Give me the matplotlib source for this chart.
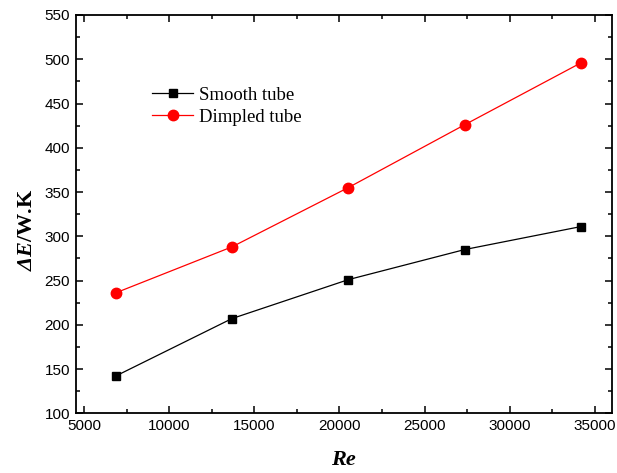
import matplotlib
matplotlib.use("Agg")
import matplotlib.pyplot as plt
from matplotlib.ticker import MultipleLocator

# Reynolds numbers and exergy change for both tube types
reynolds = [6840, 13680, 20520, 27360, 34200]
smooth_tube = [142, 207, 251, 285, 311]
dimpled_tube = [236, 288, 355, 426, 496]

plt.rcParams["font.family"] = ["Liberation Sans", "DejaVu Sans"]
plt.rcParams["mathtext.fontset"] = "custom"
plt.rcParams["mathtext.rm"] = "Liberation Serif:bold:italic"
plt.rcParams["mathtext.it"] = "Liberation Serif:bold:italic"

fig = plt.figure(figsize=(6.17, 4.73), dpi=100)
ax = fig.add_axes([0.1227, 0.1262, 0.8687, 0.8421])

ax.plot(reynolds, smooth_tube, color="black", lw=0.9, marker="s", ms=6,
        label="Smooth tube")
ax.plot(reynolds, dimpled_tube, color="red", lw=0.9, marker="o", ms=7.5,
        label="Dimpled tube")

ax.set_xlim(4500, 36000)
ax.set_ylim(100, 550)
ax.xaxis.set_major_locator(MultipleLocator(5000))
ax.xaxis.set_minor_locator(MultipleLocator(2500))
ax.yaxis.set_major_locator(MultipleLocator(50))
ax.yaxis.set_minor_locator(MultipleLocator(25))
ax.tick_params(which="both", direction="in", top=True, right=True,
               labelsize=11, width=1.1)
ax.tick_params(which="major", length=5, pad=4)
ax.tick_params(which="minor", length=3)
for sp in ax.spines.values():
    sp.set_linewidth(1.3)

ax.set_xlabel("Re", fontsize=16, family="Liberation Serif",
              style="italic", weight="bold", labelpad=12)
ax.set_ylabel(r"$\Delta E$/W.K", fontsize=16, family="Liberation Serif",
              weight="bold")
ax.yaxis.set_label_coords(-0.072, 0.462)

leg = ax.legend(loc="upper left", bbox_to_anchor=(0.111, 0.862), frameon=False,
                prop={"family": "Liberation Serif", "size": 13.5},
                handlelength=2.2, handletextpad=0.3, labelspacing=0.25)

fig.savefig("out.png", dpi=100)
